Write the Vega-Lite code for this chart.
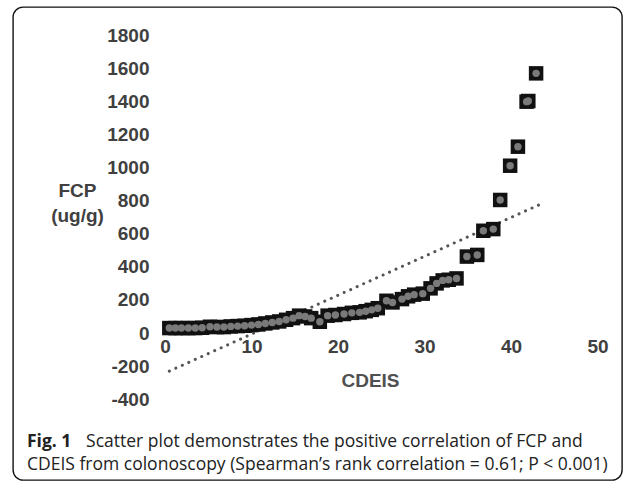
{
  "$schema": "https://vega.github.io/schema/vega-lite/v6.json",
  "width": 609,
  "height": 473,
  "autosize": "none",
  "padding": {"left": 13, "top": 7, "right": 12, "bottom": 1},
  "background": "white",
  "config": {
    "view": {"stroke": "#111", "strokeWidth": 1.4, "cornerRadius": 10},
    "axis": {"grid": false, "ticks": false, "domain": false, "labelFont": "Liberation Sans", "labelFontWeight": "bold", "labelFontSize": 19, "labelColor": "#404040", "titleFont": "Liberation Sans", "titleFontWeight": "bold", "titleFontSize": 19, "titleColor": "#404040", "labelExpr": "'' + datum.value"}
  },
  "title": {
    "text": "Fig. 1",
    "subtitle": ["\u200b\u00a0\u00a0\u00a0\u00a0\u00a0\u00a0\u00a0\u00a0\u00a0\u00a0\u00a0\u00a0\u00a0Scatter plot demonstrates the positive correlation of FCP and", "CDEIS from colonoscopy (Spearman\u2019s rank correlation = 0.61; P < 0.001)"],
    "orient": "bottom",
    "anchor": "start",
    "frame": "group",
    "offset": -47,
    "dx": 14,
    "font": "Open Sans",
    "fontSize": 17.5,
    "fontWeight": "bold",
    "color": "#222",
    "subtitleFont": "Open Sans",
    "subtitleFontSize": 17.5,
    "subtitleFontWeight": "normal",
    "subtitleColor": "#222",
    "subtitleLineHeight": 23,
    "subtitlePadding": -17.5
  },
  "datasets": {
    "points": [
      {"CDEIS": 0.5, "FCP": 30}, {"CDEIS": 1.2, "FCP": 30}, {"CDEIS": 1.9, "FCP": 30}, {"CDEIS": 2.7, "FCP": 30},
      {"CDEIS": 3.5, "FCP": 30}, {"CDEIS": 4.3, "FCP": 32}, {"CDEIS": 5.2, "FCP": 38}, {"CDEIS": 6.0, "FCP": 36},
      {"CDEIS": 6.8, "FCP": 36}, {"CDEIS": 7.6, "FCP": 40}, {"CDEIS": 8.4, "FCP": 42}, {"CDEIS": 9.2, "FCP": 44},
      {"CDEIS": 10.0, "FCP": 48}, {"CDEIS": 10.8, "FCP": 52}, {"CDEIS": 11.6, "FCP": 58}, {"CDEIS": 12.4, "FCP": 64},
      {"CDEIS": 13.2, "FCP": 70}, {"CDEIS": 14.0, "FCP": 80}, {"CDEIS": 14.8, "FCP": 90}, {"CDEIS": 15.5, "FCP": 105},
      {"CDEIS": 16.2, "FCP": 100}, {"CDEIS": 16.9, "FCP": 90}, {"CDEIS": 17.9, "FCP": 68}, {"CDEIS": 18.8, "FCP": 105},
      {"CDEIS": 19.7, "FCP": 109}, {"CDEIS": 20.7, "FCP": 115}, {"CDEIS": 21.6, "FCP": 122}, {"CDEIS": 22.5, "FCP": 125},
      {"CDEIS": 23.2, "FCP": 132}, {"CDEIS": 23.9, "FCP": 140}, {"CDEIS": 24.6, "FCP": 150}, {"CDEIS": 25.6, "FCP": 195},
      {"CDEIS": 26.3, "FCP": 185}, {"CDEIS": 27.4, "FCP": 205}, {"CDEIS": 28.1, "FCP": 222}, {"CDEIS": 28.8, "FCP": 232},
      {"CDEIS": 29.8, "FCP": 238}, {"CDEIS": 30.7, "FCP": 270}, {"CDEIS": 31.4, "FCP": 300}, {"CDEIS": 32.1, "FCP": 318},
      {"CDEIS": 32.8, "FCP": 322}, {"CDEIS": 33.7, "FCP": 330}, {"CDEIS": 34.9, "FCP": 462}, {"CDEIS": 36.1, "FCP": 472},
      {"CDEIS": 36.8, "FCP": 618}, {"CDEIS": 37.95, "FCP": 628}, {"CDEIS": 38.75, "FCP": 804}, {"CDEIS": 39.9, "FCP": 1011},
      {"CDEIS": 40.8, "FCP": 1126}, {"CDEIS": 41.8, "FCP": 1398}, {"CDEIS": 42.0, "FCP": 1402}, {"CDEIS": 42.9, "FCP": 1569}
    ],
    "trend": [{"CDEIS": 0.5, "FCP": -230}, {"CDEIS": 43.3, "FCP": 776}]
  },
  "encoding": {
    "x": {"field": "CDEIS", "type": "quantitative", "scale": {"domain": [-17.57, 52.83], "nice": false, "zero": false},
      "axis": {"values": [0, 10, 20, 30, 40, 50], "offset": -147, "labelPadding": 4, "title": "CDEIS", "titleX": 357, "titleY": 47, "titleBaseline": "middle", "titleColor": "#505050"}},
    "y": {"field": "FCP", "type": "quantitative", "scale": {"domain": [-888, 1970], "nice": false, "zero": false},
      "axis": {"values": [-400, -200, 0, 200, 400, 600, 800, 1000, 1200, 1400, 1600, 1800], "offset": -152, "labelPadding": 16, "title": ["FCP", "(ug/g)"], "titleAngle": 0, "titleAlign": "center", "titleBaseline": "middle", "titleX": -88, "titleY": 183, "titleLineHeight": 25}}
  },
  "layer": [
    {"data": {"name": "trend"}, "mark": {"type": "line", "color": "#555", "strokeWidth": 3, "strokeDash": [0.1, 7], "strokeCap": "round"}},
    {"data": {"name": "points"}, "mark": {"type": "point", "shape": "square", "filled": true, "color": "#111", "opacity": 1, "size": 210}},
    {"data": {"name": "points"}, "mark": {"type": "point", "shape": "circle", "filled": true, "color": "#7a7a7a", "opacity": 1, "size": 55}},
    {"data": {"values": [{}]}, "mark": {"type": "rule", "color": "#000", "strokeWidth": 3},
      "encoding": {"x": {"datum": 0}, "y": {"datum": -400}, "y2": {"datum": 1800}}},
    {"data": {"values": [{}]}, "mark": {"type": "rule", "color": "#000", "strokeWidth": 3},
      "encoding": {"x": {"datum": 0}, "x2": {"datum": 50}, "y": {"datum": 0}}}
  ]
}
